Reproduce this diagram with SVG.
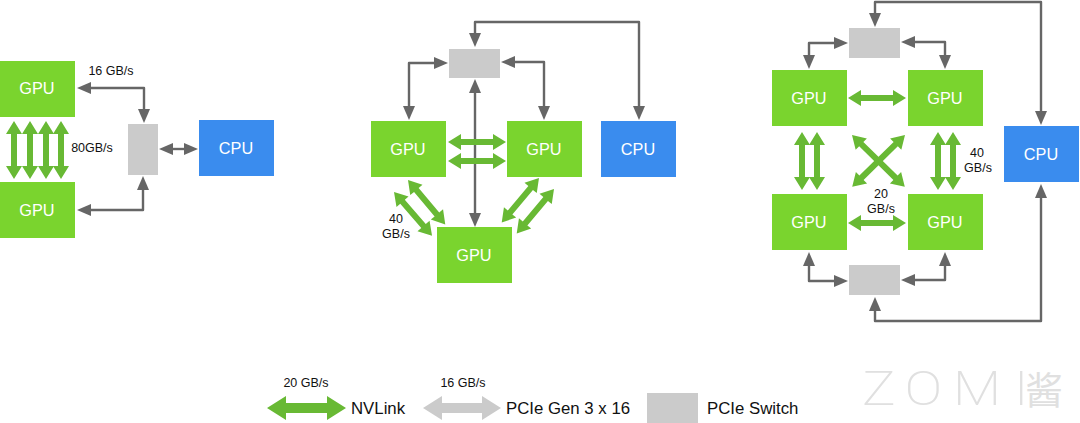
<svg xmlns="http://www.w3.org/2000/svg" width="1080" height="423" viewBox="0 0 1080 423">
<style>
text{font-family:"Liberation Sans",Arial,sans-serif;fill:#111;font-size:12.5px;text-anchor:middle}
.gpu rect{fill:#7AD42E;width:75px;height:56px}
.cpu rect{fill:#3A8CEE;width:75px;height:56px}
.gpu text,.cpu text{fill:#fff;font-size:16.3px}
.sw{fill:#CBCBCB}
.c{fill:none;stroke:#666;stroke-width:2.4;stroke-linejoin:round;marker-start:url(#h);marker-end:url(#h)}
.g{fill:#68B934}
.lg{font-size:16.8px;text-anchor:start}
.wm{fill:#e0e0e0;text-anchor:start}
</style>
<defs>
<marker id="h" markerUnits="userSpaceOnUse" viewBox="0 0 14 12" refX="8" refY="6" markerWidth="14" markerHeight="12" orient="auto-start-reverse"><path d="M0 0L14 6L0 12Z" fill="#666"/></marker>
<path id="g58" d="M0 0L13-8V-3H45V-8L58 0L45 8V3H13V8Z"/>
<path id="g74" d="M0 0L13-8V-3H61V-8L74 0L61 8V3H13V8Z"/>
</defs>
<g id="connectors">
<polyline class="c" points="83,88 144,88 144,117"/>
<polyline class="c" points="83,210 143,210 143,182"/>
<polyline class="c" points="165,149 192,149"/>
<polyline class="c" points="475,41 475,22 639,22 639,114"/>
<polyline class="c" points="442,63 409,63 409,114"/>
<polyline class="c" points="507,62 544,62 544,114"/>
<polyline class="c" points="475,85 475,221"/>
<polyline class="c" points="875,21 875,2 1041,2 1041,119"/>
<polyline class="c" points="842,43 809,43 809,63"/>
<polyline class="c" points="907,42 945,42 945,63"/>
<polyline class="c" points="809,258 809,281 842,281"/>
<polyline class="c" points="945,258 945,280 907,280"/>
<polyline class="c" points="875,303 875,321 1041,321 1041,190"/>
<g class="g">
<use href="#g58" transform="translate(14,121) rotate(90)"/>
<use href="#g58" transform="translate(30,121) rotate(90)"/>
<use href="#g58" transform="translate(46,121) rotate(90)"/>
<use href="#g58" transform="translate(61,121) rotate(90)"/>
<use href="#g58" transform="translate(448,142)"/>
<use href="#g58" transform="translate(448,161)"/>
<use href="#g58" transform="translate(394,192) rotate(49)"/>
<use href="#g58" transform="translate(408,180) rotate(50)"/>
<use href="#g58" transform="translate(539,178) rotate(130)"/>
<use href="#g58" transform="translate(554,189) rotate(130)"/>
<use href="#g58" transform="translate(848,98)"/>
<use href="#g58" transform="translate(848,223)"/>
<use href="#g58" transform="translate(802,132) rotate(90)"/>
<use href="#g58" transform="translate(817,132) rotate(90)"/>
<use href="#g58" transform="translate(938,132) rotate(90)"/>
<use href="#g58" transform="translate(953,132) rotate(90)"/>
<use href="#g74" transform="translate(852,135) rotate(44.5)"/>
<use href="#g74" transform="translate(905,135) rotate(135.5)"/>
</g>
</g>
<g id="gpu-a1" class="gpu"><rect x="0" y="61"/><text x="37" y="94">GPU</text></g>
<g id="gpu-a2" class="gpu"><rect x="0" y="182"/><text x="37" y="216">GPU</text></g>
<rect id="switch-a" class="sw" x="128" y="124" width="30" height="51"/>
<g id="cpu-a" class="cpu"><rect x="199" y="120"/><text x="236" y="154">CPU</text></g>
<text x="111" y="75">16 GB/s</text>
<text x="92" y="152">80GB/s</text>

<rect id="switch-b" class="sw" x="449" y="49" width="51" height="29"/>
<g id="gpu-b1" class="gpu"><rect x="371" y="121"/><text x="408" y="155">GPU</text></g>
<g id="gpu-b2" class="gpu"><rect x="507" y="121"/><text x="544" y="155">GPU</text></g>
<g id="gpu-b3" class="gpu"><rect x="437" y="227"/><text x="474" y="261">GPU</text></g>
<g id="cpu-b" class="cpu"><rect x="601" y="121"/><text x="638" y="155">CPU</text></g>
<text x="396" y="223">40</text>
<text x="396" y="238">GB/s</text>

<rect id="switch-c1" class="sw" x="849" y="28" width="51" height="30"/>
<rect id="switch-c2" class="sw" x="849" y="265" width="51" height="30"/>
<g id="gpu-c1" class="gpu"><rect x="772" y="70"/><text x="809" y="104">GPU</text></g>
<g id="gpu-c2" class="gpu"><rect x="908" y="70"/><text x="945" y="104">GPU</text></g>
<g id="gpu-c3" class="gpu"><rect x="772" y="194"/><text x="809" y="228">GPU</text></g>
<g id="gpu-c4" class="gpu"><rect x="908" y="194"/><text x="945" y="228">GPU</text></g>
<g id="cpu-c" class="cpu"><rect x="1004" y="126"/><text x="1041" y="160">CPU</text></g>
<text x="977" y="157">40</text>
<text x="978" y="172">GB/s</text>
<text x="881" y="198">20</text>
<text x="881" y="213">GB/s</text>

<g id="legend">
<path class="g" d="M267 408L286 396V403H327V396L346 408L327 420V413H286V420Z"/>
<path class="sw" d="M423 408L442 396V403H482V396L501 408L482 420V413H442V420Z"/>
<rect class="sw" x="647" y="393" width="51" height="30"/>
<text x="306" y="387">20 GB/s</text>
<text x="463" y="387">16 GB/s</text>
<text class="lg" x="351" y="414">NVLink</text>
<text class="lg" x="506" y="414">PCIe Gen 3 x 16</text>
<text class="lg" x="707" y="414">PCIe Switch</text>
</g>
<g id="watermark">
<text class="wm" x="0 37 79 132" y="0" transform="translate(862,405) scale(1.15,1)" style="font-family:Roboto,'Liberation Sans',sans-serif;font-size:49px;font-weight:200">ZOMI</text>
<text class="wm" x="1025" y="404" style="font-family:'Noto Sans CJK SC',sans-serif;font-size:38px;font-weight:400">酱</text>
</g>
</svg>
